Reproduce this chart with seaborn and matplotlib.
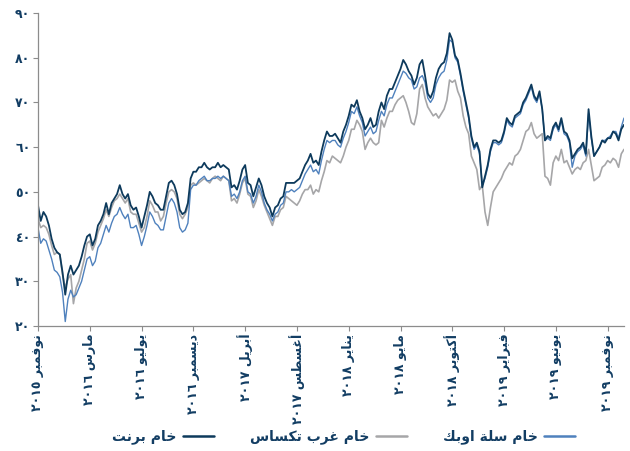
import matplotlib
matplotlib.use("Agg")
import matplotlib.pyplot as plt
import numpy as np
import pandas as pd
import seaborn as sns

# weekly closes (Friday), Nov 2015 - Dec 2019
start_date = "2015-11-06"

brent = [
    47.0, 43.5, 45.5, 44.5, 42.5, 39.5, 37.5, 36.5, 36.0, 32.0,
    27.0, 31.5, 33.5, 31.5, 32.5, 33.5, 35.5, 38.0, 40.0, 40.5,
    38.0, 39.5, 42.5, 43.5, 45.0, 47.5, 45.0, 47.5, 48.5, 49.5,
    51.5, 49.5, 48.5, 49.5, 47.0, 46.0, 46.5, 44.5, 42.0, 44.5,
    47.0, 50.0, 49.0, 47.5, 47.0, 46.0, 46.0, 49.0, 52.0, 52.5,
    51.5, 49.5, 46.0, 45.0, 45.5, 47.5, 53.0, 54.5, 54.5, 55.5,
    55.5, 56.5, 55.5, 55.0, 55.5, 55.5, 56.5, 55.5, 56.0, 55.5,
    55.0, 51.0, 51.5, 50.5, 52.5, 55.0, 56.0, 52.0, 51.5, 49.0,
    51.0, 53.0, 51.5, 49.0, 47.5, 46.5, 44.5, 46.5, 47.0, 48.5,
    49.0, 52.0, 52.0, 52.0, 52.0, 52.5, 53.0, 54.5, 56.0, 57.0,
    58.5, 56.5, 57.0, 56.0, 59.0, 61.5, 63.5, 62.5, 62.5, 63.0,
    62.0, 61.0, 63.5, 65.0, 67.0, 69.5, 69.0, 70.5, 68.0, 66.5,
    64.0, 65.0, 66.5, 64.5, 65.0, 68.0, 70.0, 68.5, 71.5, 73.0,
    73.0, 74.5, 76.0, 77.5, 79.5, 78.5, 77.0, 76.0, 74.0, 75.5,
    78.5, 79.5, 76.0, 72.0, 71.0, 72.5, 75.5, 77.5, 78.5, 79.0,
    81.0, 85.5, 84.0, 80.5, 79.5, 76.5, 73.0, 70.0, 67.0, 62.5,
    60.0, 61.0, 59.0, 51.0, 53.5, 56.0, 59.5, 61.5, 61.5, 61.0,
    61.5, 63.5, 66.5, 65.5, 65.0, 67.0, 67.5, 68.0, 70.0, 71.0,
    72.5, 74.0, 71.5, 70.5, 72.5, 68.5, 61.5, 62.5, 62.0, 64.5,
    65.5, 64.0, 66.5, 63.5, 63.0, 61.5, 57.5, 58.5, 59.5, 60.0,
    61.0, 58.5, 68.5, 62.5, 58.0, 59.0, 60.0, 61.5, 61.0, 62.0,
    62.0, 63.5, 63.0, 61.5, 64.0, 65.0,
]

wti = [
    44.0, 42.0, 42.5, 42.0, 40.5, 38.0, 36.0, 36.5, 36.0, 31.5,
    28.5, 30.5, 31.5, 25.0, 28.5, 30.0, 32.5, 35.0, 38.5, 39.0,
    37.0, 38.5, 41.0, 42.5, 44.0, 46.0, 44.5, 46.5, 48.0, 48.5,
    49.5, 48.5, 47.5, 48.5, 45.5, 45.0, 45.0, 43.0, 41.0, 42.0,
    44.5, 48.0, 47.0, 45.5, 45.5, 43.5, 44.5, 47.5, 50.0, 50.5,
    50.0, 48.5, 45.0, 44.0, 45.0, 46.5, 51.5, 52.0, 51.5, 52.0,
    52.5, 53.0, 52.5, 52.0, 53.0, 53.5, 53.0, 52.5, 53.5, 53.0,
    52.5, 48.0, 48.5, 47.5, 49.5, 52.0, 53.0, 49.5, 49.0, 46.5,
    48.0, 50.5, 49.0, 47.0, 45.5, 44.0, 42.5, 44.5, 44.5, 46.0,
    46.5, 49.0, 48.5, 48.0, 47.5, 47.0, 48.0, 49.5, 50.5, 50.5,
    51.5, 49.5, 50.5, 50.0, 52.5, 54.5, 57.0, 56.5, 58.0, 57.5,
    57.0, 56.5, 58.0, 60.0, 61.5, 64.0, 64.0, 66.0, 65.0, 63.5,
    59.5, 61.0, 62.0, 61.0, 60.5, 61.0, 66.0, 64.5, 66.5, 68.0,
    68.0, 69.5, 70.5, 71.0, 71.5, 70.0, 68.0, 65.5, 65.0, 67.5,
    73.0, 74.0, 71.0, 69.0, 68.0, 67.0, 67.5, 66.5, 67.5, 68.5,
    70.5, 75.0, 74.5, 75.0, 72.5, 71.0, 67.0, 64.5, 63.0, 58.0,
    56.5, 55.0, 50.5, 51.5, 45.5, 42.5, 46.5, 50.0, 51.0, 52.0,
    53.0, 54.5, 55.5, 56.5, 56.0, 58.0, 58.5, 59.5, 61.5, 63.5,
    64.0, 65.5, 63.0, 62.0, 62.5, 63.0, 53.5, 53.0, 51.5, 56.5,
    58.0, 57.0, 59.5, 56.5, 57.0, 55.5, 54.0, 55.0, 55.5, 55.0,
    56.5, 57.0, 59.5, 56.0, 52.5, 53.0, 53.5, 55.5, 56.0, 57.0,
    56.5, 57.5, 57.0, 55.5, 58.5, 59.5,
]

opec = [
    42.0, 38.5, 39.5, 39.0, 37.0, 35.0, 32.5, 32.0, 31.0, 27.5,
    21.0, 26.0, 28.0, 26.5, 27.0, 28.5, 30.0, 32.5, 35.0, 35.5,
    33.5, 34.5, 37.5, 38.5, 40.5, 42.5, 41.0, 43.0, 44.5, 45.0,
    46.5, 45.0, 44.0, 45.0, 42.0, 42.0, 42.5, 40.5, 38.0, 40.0,
    42.5, 45.5, 44.5, 43.0, 42.5, 41.5, 41.5, 44.5, 47.5, 48.5,
    47.5, 45.5, 42.0, 41.0, 41.5, 43.0, 50.5, 51.5, 51.5, 52.5,
    53.0, 53.5, 52.5, 52.5, 53.0, 53.0, 53.5, 53.0, 53.5, 53.0,
    52.5, 49.0, 49.5, 48.5, 50.0, 52.5, 53.5, 50.0, 49.5, 47.5,
    49.0, 51.5, 50.0, 47.5, 46.0, 45.0, 43.5, 45.0, 45.5, 47.0,
    47.5, 50.0, 50.0, 50.5, 50.0, 50.5, 51.0, 52.5, 54.0, 55.0,
    56.0, 54.5, 55.0, 54.0, 57.0, 59.5, 61.5, 61.0, 61.5, 61.5,
    60.5, 60.0, 62.0, 63.5, 65.5, 68.0, 67.5, 69.0, 67.0, 65.5,
    62.5, 63.5, 64.5, 63.0, 63.5, 66.0, 68.0, 67.0, 69.5, 71.0,
    71.0, 72.5, 74.0, 75.5, 77.0, 76.5, 75.5, 75.0, 73.0, 73.5,
    75.5, 76.0, 74.5, 71.0, 70.0, 71.0, 74.0, 75.5, 76.5, 77.0,
    79.5, 84.0, 83.5, 80.0, 79.0, 76.0, 72.5, 69.5, 66.5, 62.0,
    59.5, 60.5, 58.5, 51.5, 53.0, 55.5, 59.0, 61.0, 61.0, 60.5,
    61.0, 63.0, 66.0, 65.0, 64.5, 66.5, 67.0, 67.5, 69.5, 70.5,
    72.0, 73.5, 71.0, 70.0, 72.0, 68.5, 61.5, 62.0, 61.5, 64.0,
    65.0, 63.5, 66.0, 63.0, 62.5, 61.0, 55.5, 58.0, 59.0, 59.5,
    60.5, 58.0, 67.5, 62.0, 58.0, 59.0, 60.0, 61.5, 61.5, 62.0,
    62.5, 63.5, 63.5, 62.0, 64.5, 66.5,
]

series_names = ["خام برنت", "خام غرب تكساس", "خام سلة اوبك"]
series_colors = ["#0d3a5c", "#a6a6a8", "#4f81bd"]

tick_labels = ["نوفمبر ٢٠١٥", "مارس ٢٠١٦", "يوليو ٢٠١٦", "ديسمبر ٢٠١٦",
               "أبريل ٢٠١٧", "أغسطس ٢٠١٧", "يناير ٢٠١٨", "مايو ٢٠١٨",
               "أكتوبر ٢٠١٨", "فبراير ٢٠١٩", "يونيو ٢٠١٩", "نوفمبر ٢٠١٩"]
y_ticks = [20, 30, 40, 50, 60, 70, 80, 90]

# --- minimal arabic shaping (matplotlib has no RTL / joining support) ---
FORMS = {
    "ا": ("\ufe8d", "\ufe8e", None, None),
    "أ": ("\ufe83", "\ufe84", None, None),
    "ب": ("\ufe8f", "\ufe90", "\ufe91", "\ufe92"),
    "ة": ("\ufe93", "\ufe94", None, None),
    "ت": ("\ufe95", "\ufe96", "\ufe97", "\ufe98"),
    "خ": ("\ufea5", "\ufea6", "\ufea7", "\ufea8"),
    "د": ("\ufea9", "\ufeaa", None, None),
    "ر": ("\ufead", "\ufeae", None, None),
    "س": ("\ufeb1", "\ufeb2", "\ufeb3", "\ufeb4"),
    "ط": ("\ufec1", "\ufec2", "\ufec3", "\ufec4"),
    "غ": ("\ufecd", "\ufece", "\ufecf", "\ufed0"),
    "ف": ("\ufed1", "\ufed2", "\ufed3", "\ufed4"),
    "ك": ("\ufed9", "\ufeda", "\ufedb", "\ufedc"),
    "ل": ("\ufedd", "\ufede", "\ufedf", "\ufee0"),
    "م": ("\ufee1", "\ufee2", "\ufee3", "\ufee4"),
    "ن": ("\ufee5", "\ufee6", "\ufee7", "\ufee8"),
    "و": ("\ufeed", "\ufeee", None, None),
    "ي": ("\ufef1", "\ufef2", "\ufef3", "\ufef4"),
}


def shape_word(w):
    out = []
    for i, ch in enumerate(w):
        f = FORMS.get(ch)
        if f is None:
            out.append(ch)
            continue
        prev = w[i - 1] if i > 0 else None
        nxt = w[i + 1] if i + 1 < len(w) else None
        jp = prev in FORMS and FORMS[prev][2] is not None
        jn = nxt in FORMS and f[2] is not None
        if jp and jn:
            out.append(f[3])
        elif jp:
            out.append(f[1])
        elif jn:
            out.append(f[2])
        else:
            out.append(f[0])
    return "".join(out)


def rtl(text):
    vis = []
    for w in reversed(text.split(" ")):
        if w and w[0] in FORMS:
            vis.append(shape_word(w)[::-1])
        else:
            vis.append(w)
    return " ".join(vis)


def ar_num(n):
    return str(n).translate(str.maketrans("0123456789", "٠١٢٣٤٥٦٧٨٩"))


dates = pd.date_range(start_date, periods=len(brent), freq="W-FRI")
df = pd.DataFrame({"date": dates, series_names[0]: brent,
                   series_names[1]: wti, series_names[2]: opec})
long_df = df.melt(id_vars="date", var_name="series", value_name="price")

sns.set_style("white")
plt.rcParams["font.family"] = ["DejaVu Sans"]
text_color = "#123d63"

fig = plt.figure(figsize=(6.3, 4.51), dpi=100)
ax = fig.add_axes([38 / 630, 1 - 326 / 451, (624 - 38) / 630, (326 - 13) / 451])

palette = dict(zip(series_names, series_colors))
draw_order = [series_names[1], series_names[2], series_names[0]]
sns.lineplot(data=long_df, x="date", y="price", hue="series",
             hue_order=draw_order, palette=palette, ax=ax, legend=False,
             estimator=None)
for line, lw in zip(ax.lines, [1.2, 1.0, 1.3]):
    line.set_linewidth(lw)

ax.set_xlim(dates[0], dates[-1])
ax.set_ylim(20, 90)
ax.set_yticks(y_ticks)
ax.set_yticklabels([ar_num(v) for v in y_ticks], fontsize=9, fontweight="bold",
                   color=text_color)
xt = [pd.Timestamp(start_date) + pd.Timedelta(days=133 * k) for k in range(12)]
ax.set_xticks(xt)
ax.set_xticklabels([rtl(t) for t in tick_labels], rotation=90, fontsize=9,
                   fontweight="bold", color=text_color, va="top", ha="center")
ax.set_xlabel("")
ax.set_ylabel("")
for s in ["top", "right"]:
    ax.spines[s].set_visible(False)
for s in ["left", "bottom"]:
    ax.spines[s].set_color("#8c8c8c")
    ax.spines[s].set_linewidth(0.9)
ax.tick_params(axis="both", direction="out", length=3.5, width=0.8,
               color="#8c8c8c", pad=2, left=True, bottom=True)
ax.grid(False)

handles = [plt.Line2D([], [], color=c, lw=1.8) for c in series_colors]
leg = fig.legend(handles, [rtl(n) for n in series_names], loc="center",
                 bbox_to_anchor=(0.545, 0.031), ncol=3, frameon=False,
                 markerfirst=False, handlelength=2.2, columnspacing=2.6,
                 handletextpad=0.5, prop={"size": 10, "weight": "bold"})
for t in leg.get_texts():
    t.set_color(text_color)

fig.savefig("out.png", dpi=100)
